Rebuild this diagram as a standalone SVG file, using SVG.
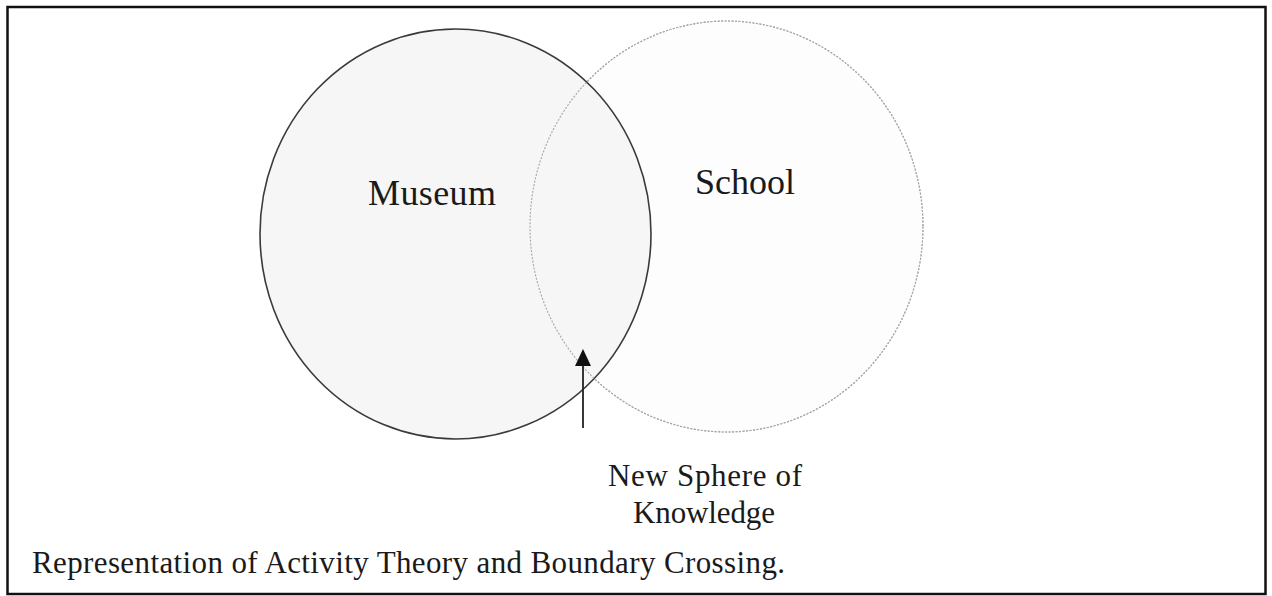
<svg xmlns="http://www.w3.org/2000/svg" width="1272" height="596" viewBox="0 0 1272 596">
  <style>
    .label { font-family: "Liberation Serif", "Times New Roman", serif; fill: #1a1a1a; }
    .big { font-size: 36px; }
    .mid { font-size: 31px; }
    .school-edge { fill: none; stroke: #a8a8a8; stroke-width: 1.1; stroke-dasharray: 2 1.5; }
  </style>

  <!-- page background and frame -->
  <rect x="0" y="0" width="1272" height="596" fill="#ffffff"/>
  <rect x="7.5" y="7" width="1258" height="587" fill="none" stroke="#111111" stroke-width="2.5"/>

  <!-- School sphere (faint dotted outline) -->
  <g id="school">
    <ellipse cx="726.5" cy="226.5" rx="196.5" ry="205.5" fill="#fdfdfd" class="school-edge" style="fill:#fdfdfd"/>
    <text class="label big" x="695" y="194" textLength="100">School</text>
  </g>

  <!-- Museum sphere -->
  <g id="museum">
    <ellipse cx="455.5" cy="234" rx="195.5" ry="205" fill="#f5f5f5" fill-opacity="0.9" stroke="#3a3a3a" stroke-width="1.6"/>
    <text class="label big" x="368" y="205" textLength="128">Museum</text>
  </g>

  <!-- dotted School outline repeated on top so it shows inside the overlap -->
  <ellipse cx="726.5" cy="226.5" rx="196.5" ry="205.5" class="school-edge"/>

  <!-- pointer to the overlap -->
  <g id="connectors">
    <line x1="583" y1="428" x2="583" y2="362" stroke="#222222" stroke-width="1.8"/>
    <polygon points="583,349 575,366 591,366" fill="#111111"/>
  </g>

  <g id="new-sphere">
    <text class="label mid" x="608" y="486" textLength="194">New Sphere of</text>
    <text class="label mid" x="633" y="523" textLength="142">Knowledge</text>
  </g>

  <g id="caption">
    <text class="label mid" x="32" y="573" textLength="753">Representation of Activity Theory and Boundary Crossing.</text>
  </g>
</svg>
